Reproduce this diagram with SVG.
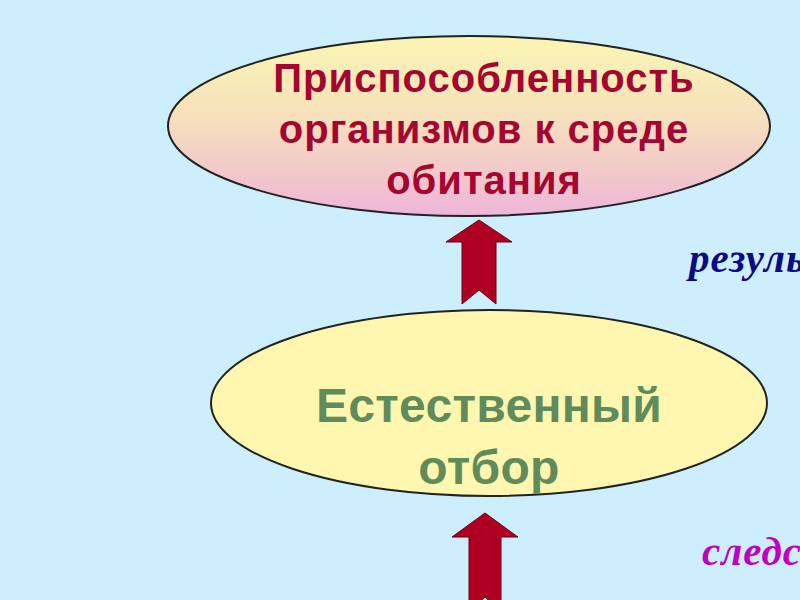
<svg xmlns="http://www.w3.org/2000/svg" width="800" height="600" viewBox="0 0 800 600">
<defs>
<linearGradient id="g1" x1="0" y1="0" x2="0" y2="1">
<stop offset="0" stop-color="#FBF6B4"/>
<stop offset="0.45" stop-color="#F6E0BC"/>
<stop offset="1" stop-color="#EFB6D8"/>
</linearGradient>
<style>
.ell{stroke:#222;stroke-width:2}
.t1{font-family:"Liberation Sans",Arial,sans-serif;font-weight:bold;font-size:40px;letter-spacing:1px;fill:#A3062E;text-anchor:middle}
.t2{font-family:"Liberation Sans",Arial,sans-serif;font-weight:bold;font-size:48px;letter-spacing:0.3px;fill:#5F8C5A;text-anchor:middle}
.lab{font-family:"Liberation Serif","Times New Roman",serif;font-weight:bold;font-style:italic;font-size:41px;letter-spacing:1px}
.arr{fill:#B00022;stroke:#6a0014;stroke-width:1}
</style>
</defs>
<rect width="800" height="600" fill="#CDEEFD"/>
<g id="connectors">
<path class="arr" d="M479,220 L512,242 L496,242 L496,304 L479,290 L462,304 L462,242 L446,242 Z"/>
<path class="arr" d="M485,513 L518,537 L501,537 L501,612 L485,597 L469,612 L469,537 L452,537 Z"/>
</g>
<g id="node-adaptation">
<ellipse class="ell" cx="469" cy="126" rx="301" ry="90" fill="url(#g1)"/>
<text class="t1" x="484" y="92">Приспособленность</text>
<text class="t1" x="484" y="143">организмов к среде</text>
<text class="t1" x="484" y="194">обитания</text>
</g>
<g id="node-selection">
<ellipse class="ell" cx="489" cy="403" rx="278" ry="93" fill="#FFF7B0"/>
<text class="t2" x="489" y="422">Естественный</text>
<text class="t2" x="489" y="484">отбор</text>
</g>
<g id="label-result">
<text class="lab" x="689" y="272" fill="#0A0A82">результат</text>
</g>
<g id="label-consequence">
<text class="lab" x="702" y="565" fill="#C000C0">следствие</text>
</g>
</svg>
